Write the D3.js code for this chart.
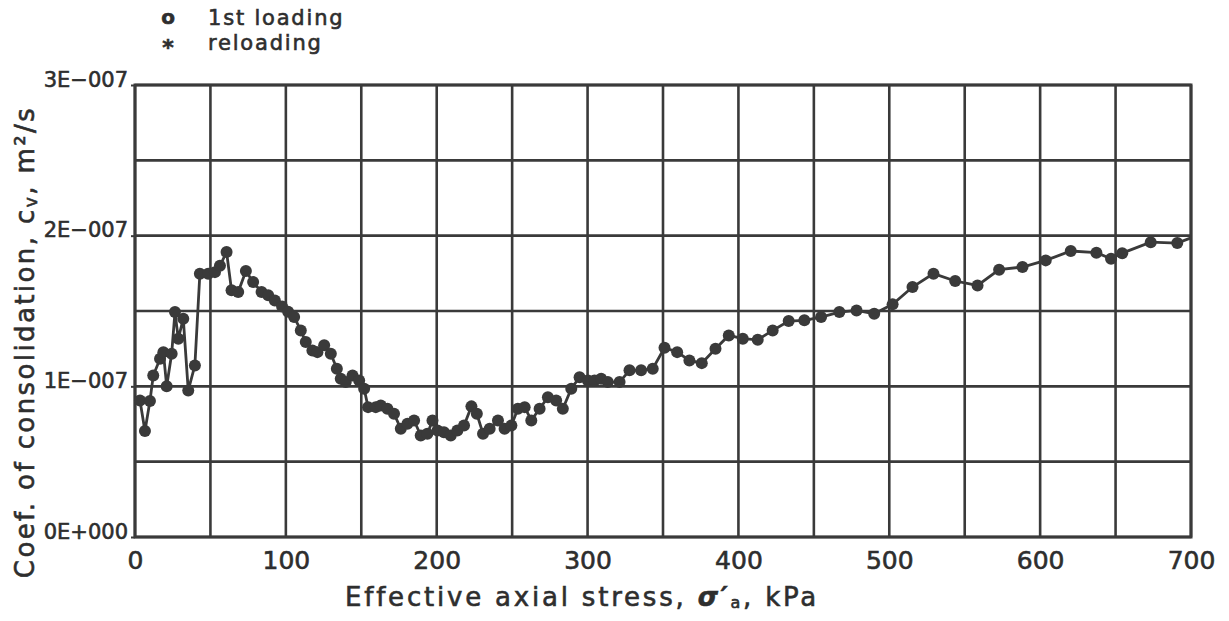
<!DOCTYPE html>
<html>
<head>
<meta charset="utf-8">
<script src="https://cdn.jsdelivr.net/npm/d3@7"></script>
<style>
  html, body { margin: 0; padding: 0; background: #fff; }
  svg { display: block; }
  text { font-family: "DejaVu Sans", sans-serif; fill: #2e2e2e; stroke: #2e2e2e; stroke-width: 0.6px; }
</style>
</head>
<body>
<svg id="chart" width="1229" height="621"></svg>
<script>
// Effective axial stress (kPa)
const stress = [3.3, 6.6, 9.9, 12.1, 16.6, 18.8, 21, 24.3, 26.5, 28.7, 32, 35.3, 39.7,
  43, 48.5, 53, 56.3, 60.7, 64, 68.4, 73.5, 78.3, 83.9, 88.3, 92.7, 97.5, 101.5, 105.5,
  109.9, 113.2, 117.6, 120.9, 125.4, 129.8, 133.8, 136.4, 139.7, 144.2, 148.6, 151.9,
  154.5, 159.6, 162.9, 167.3, 171.7, 176.2, 180.6, 185, 189.4, 193.8, 197.2, 200.5,
  204.8, 209.3, 213.7, 218.1, 223, 226.6, 230.7, 235.1, 240.6, 245, 249.5, 253.8,
  258.3, 262.7, 268.2, 273.7, 279.2, 283.6, 289.2, 294.7, 300.2, 304.6, 309, 313.4,
  321.2, 327.8, 335.5, 343.2, 351, 359.4, 367.5, 375.7, 384.8, 393.6, 402.9, 412.8,
  422.7, 433.3, 443.7, 454.8, 466.9, 478.3, 490, 502.2, 515.4, 529.3, 543.7, 558.5,
  572.8, 588.3, 603.7, 620.3, 637.3, 647, 654.4, 673.3, 690.9, 700];
// Coefficient of consolidation cv (units of 1E-007 m²/s)
const cv = [0.906, 0.703, 0.902, 1.072, 1.183, 1.227, 1.001, 1.216, 1.493, 1.316, 1.449, 0.973, 1.139,
  1.748, 1.748, 1.758, 1.80, 1.891, 1.637, 1.626, 1.765, 1.692, 1.626, 1.604, 1.570, 1.53, 1.495, 1.46,
  1.371, 1.294, 1.238, 1.227, 1.272, 1.216, 1.117, 1.05, 1.028, 1.072, 1.039, 0.984,
  0.862, 0.862, 0.873, 0.851, 0.818, 0.718, 0.752, 0.774, 0.674, 0.685, 0.774, 0.707,
  0.696, 0.674, 0.707, 0.740, 0.867, 0.818, 0.685, 0.718, 0.774, 0.718, 0.74, 0.851,
  0.862, 0.774, 0.851, 0.928, 0.906, 0.851, 0.984, 1.061, 1.039, 1.039, 1.05, 1.028,
  1.028, 1.106, 1.106, 1.117, 1.256, 1.227, 1.172, 1.154, 1.25, 1.338, 1.316, 1.309,
  1.371, 1.433, 1.438, 1.46, 1.493, 1.504, 1.482, 1.544, 1.659, 1.748, 1.699, 1.67,
  1.774, 1.792, 1.836, 1.898, 1.887, 1.847, 1.884, 1.957, 1.951, 1.985];

const xTickValues = [0, 100, 200, 300, 400, 500, 600, 700];
const yTickValues = [0, 1, 2, 3];
const yTickLabels = ["0E+000", "1E\u2212007", "2E\u2212007", "3E\u2212007"];
const xGridValues = d3.range(0, 701, 50);
const yGridValues = d3.range(0, 3.01, 0.5);
const legendLabels = ["1st loading", "reloading"];
const legendSymbols = ["o", "*"];

const ink = "#3a3a3a";
const svg = d3.select("#chart");
const m = { left: 135, right: 1191, top: 85, bottom: 537 };
const x = d3.scaleLinear().domain([0, 700]).range([m.left, m.right]);
const y = d3.scaleLinear().domain([0, 3]).range([m.bottom, m.top]);

// grid
const g = svg.append("g");
g.selectAll(".vg").data(xGridValues).join("line")
  .attr("x1", d => x(d)).attr("x2", d => x(d))
  .attr("y1", m.top).attr("y2", m.bottom)
  .attr("stroke", ink).attr("stroke-width", 2.6);
g.selectAll(".hg").data(yGridValues).join("line")
  .attr("y1", d => y(d)).attr("y2", d => y(d))
  .attr("x1", m.left).attr("x2", m.right)
  .attr("stroke", ink).attr("stroke-width", 2.6);

// axes
const xAxis = d3.axisBottom(x).tickValues(xTickValues).tickSize(0).tickPadding(14);
const xg = svg.append("g").attr("transform", `translate(0,${m.bottom})`).call(xAxis);
xg.select(".domain").remove();
xg.selectAll("text").attr("font-size", 25).attr("fill", "#2e2e2e").attr("dy", "0.72em");

const yAxis = d3.axisLeft(y).tickValues(yTickValues).tickFormat((d, i) => yTickLabels[i]).tickSize(4).tickPadding(3);
const yg = svg.append("g").attr("transform", `translate(${m.left},0)`).call(yAxis);
yg.select(".domain").remove();
yg.selectAll("line").attr("stroke", ink).attr("stroke-width", 2);
yg.selectAll("text").attr("font-size", 21).attr("fill", "#2e2e2e").attr("dy", "0.05em");

// frame
svg.append("rect").attr("x", m.left).attr("y", m.top)
  .attr("width", m.right - m.left).attr("height", m.bottom - m.top)
  .attr("fill", "none").attr("stroke", ink).attr("stroke-width", 3);

// data
const pts = stress.map((s, i) => [s, cv[i]]);
svg.append("path").datum(pts)
  .attr("d", d3.line().x(d => x(d[0])).y(d => y(d[1])))
  .attr("fill", "none").attr("stroke", ink).attr("stroke-width", 2.8);
svg.append("g").selectAll("circle").data(pts.slice(0, -1)).join("circle")
  .attr("cx", d => x(d[0])).attr("cy", d => y(d[1])).attr("r", 6)
  .attr("fill", ink);

// x title
const xt = svg.append("text").attr("x", 582).attr("y", 606).attr("text-anchor", "middle")
  .attr("font-size", 26).attr("letter-spacing", 2.8);
xt.append("tspan").text("Effective axial stress,  ");
xt.append("tspan").attr("font-style", "italic").attr("font-weight", "bold").text("\u03C3\u2032");
xt.append("tspan").attr("font-size", 16).attr("dy", 2).text("a");
xt.append("tspan").attr("dy", -2).text(", kPa");

// y title
const yt = svg.append("text").attr("transform", "translate(34,342) rotate(-90)")
  .attr("text-anchor", "middle").attr("font-size", 26).attr("letter-spacing", 2.4);
yt.append("tspan").text("Coef. of consolidation, c");
yt.append("tspan").attr("font-size", 17).attr("dy", 3).text("v");
yt.append("tspan").attr("dy", -3).text(", m\u00B2/s");

// legend
const lg = svg.append("g");
legendLabels.forEach((lab, i) => {
  lg.append("text").attr("x", 168).attr("y", 25 + i * 25).attr("text-anchor", "middle")
    .attr("font-size", i === 0 ? 20 : 22).attr("font-weight", "bold")
    .attr("dy", i === 0 ? -1 : 5).text(legendSymbols[i]);
  lg.append("text").attr("x", 208).attr("y", 25 + i * 25)
    .attr("font-size", 21).attr("letter-spacing", 1.8).text(lab);
});
</script>
</body>
</html>
